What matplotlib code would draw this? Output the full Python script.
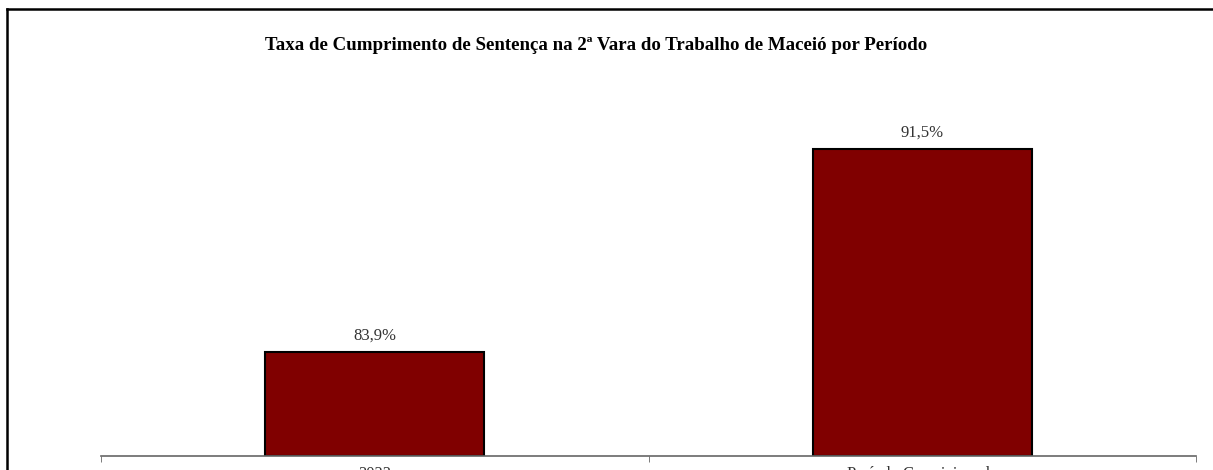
import matplotlib
matplotlib.use("Agg")
import matplotlib.pyplot as plt
from matplotlib.lines import Line2D

# data
categories = ["2023", "Período Correicionado"]
values = [83.9, 91.5]
value_labels = ["83,9%", "91,5%"]
title = "Taxa de Cumprimento de Sentença na 2ª Vara do Trabalho de Maceió por Período"

W, H = 1213, 470
fig = plt.figure(figsize=(W / 100, H / 100), dpi=100)
plt.rcParams["font.family"] = ["Liberation Serif", "DejaVu Serif"]

ax = fig.add_axes([101 / W, 1 - 456 / H, (1196 - 101) / W, (456 - 56) / H])
x = list(range(len(categories)))
bars = ax.bar(x, [v - 80 for v in values], bottom=80, width=0.40,
              color="#800000", edgecolor="black", linewidth=1.5, zorder=2)
ax.set_xlim(-0.5, len(categories) - 0.5)
ax.set_ylim(80, 95)

for rect, lab in zip(bars, value_labels):
    ax.annotate(lab, (rect.get_x() + rect.get_width() / 2, rect.get_y() + rect.get_height()),
                xytext=(0, 6), textcoords="offset points", ha="center", va="bottom",
                fontsize=12, color="#333333")

for side in ["top", "left", "right"]:
    ax.spines[side].set_visible(False)
ax.spines["bottom"].set_color("#666666")
ax.spines["bottom"].set_linewidth(1.2)
ax.set_yticks([])
ax.set_xticks(x)
ax.set_xticklabels(categories, fontsize=12, color="#333333")
ax.tick_params(axis="x", which="major", length=0, pad=7)
ax.set_xticks([i - 0.5 for i in range(len(categories) + 1)], minor=True)
ax.tick_params(axis="x", which="minor", length=4, direction="out", color="#666666")

fig.text(596 / W, 1 - 46 / H, title, ha="center", va="center", fontsize=13.6,
         fontweight="bold", color="black")

# outer chart frame (only top and left edges visible in the crop)
fig.add_artist(Line2D([7 / W, 1.0], [1 - 9 / H, 1 - 9 / H], transform=fig.transFigure,
                      color="black", linewidth=1.8))
fig.add_artist(Line2D([7 / W, 7 / W], [0.0, 1 - 9 / H], transform=fig.transFigure,
                      color="black", linewidth=1.8))

fig.savefig("out.png", dpi=100)
